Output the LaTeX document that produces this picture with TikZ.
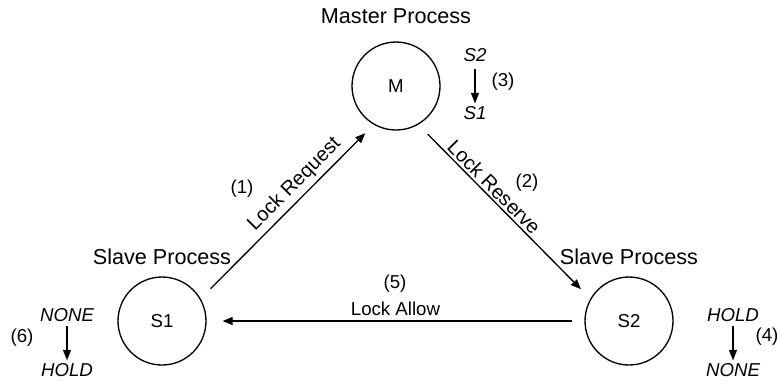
\documentclass[tikz,border=0pt]{standalone}
\usepackage{fontspec}
\setmainfont{Liberation Sans}
\usetikzlibrary{arrows.meta}
\begin{document}
\begin{tikzpicture}[x=0.75pt,y=-0.75pt,
  every node/.style={font=\fontsize{14}{16}\selectfont, inner sep=1pt},
  title/.style={font=\fontsize{16.2}{18}\selectfont},
  elab/.style={font=\fontsize{15}{17}\selectfont},
  proc/.style={draw, circle, line width=1pt, minimum size=66pt, inner sep=0pt},
  conn/.style={line width=1pt, -{Triangle[length=7.5pt,width=6pt]}},
  small/.style={line width=1pt, -{Triangle[length=8pt,width=6pt]}},
  st/.style={font=\fontsize{14}{16}\selectfont\itshape}]
\useasboundingbox (0,0) rectangle (780,380);
\node[proc] (M) at (396,86) {M};
\node[proc] (S1) at (162,321) {S1};
\node[proc] (S2) at (629,321) {S2};
\node[title] (lm) at (396,16) {Master Process};
\node[title] (l1) at (162,257) {Slave Process};
\node[title] (l2) at (629,257) {Slave Process};
\draw[conn, shorten <=10.5pt, shorten >=9pt] (S1.30) -- (M.240)
  node[elab, pos=0.6, sloped, above=2pt] {Lock Request};
\draw[conn, shorten <=10pt, shorten >=10pt] (M.300) -- (S2.150)
  node[elab, pos=0.4, sloped, above=0.5pt] {Lock Reserve};
\draw[conn, shorten <=9pt, shorten >=12pt] (S2.180) -- (S1.0)
  node[midway, above=2.5pt] {Lock Allow};
\node (n1) at (242,189) {(1)};
\node (n2) at (527,183) {(2)};
\node (n5) at (395,284) {(5)};
\node (n3) at (503,82) {(3)};
\node (n6) at (22,338) {(6)};
\node (n4) at (767,337) {(4)};
\node[st] (ms2) at (475,55) {S2};
\node[st] (ms1) at (475,113) {S1};
\draw[small, shorten <=4pt, shorten >=1pt] (ms2) -- (ms1);
\node[st] (lnone) at (67,315) {NONE};
\node[st] (lhold) at (67,370) {HOLD};
\draw[small, shorten <=2pt, shorten >=1pt] (lnone) -- (lhold);
\node[st] (rhold) at (733,315) {HOLD};
\node[st] (rnone) at (733,370) {NONE};
\draw[small, shorten <=2pt, shorten >=1pt] (rhold) -- (rnone);
\end{tikzpicture}
\end{document}
